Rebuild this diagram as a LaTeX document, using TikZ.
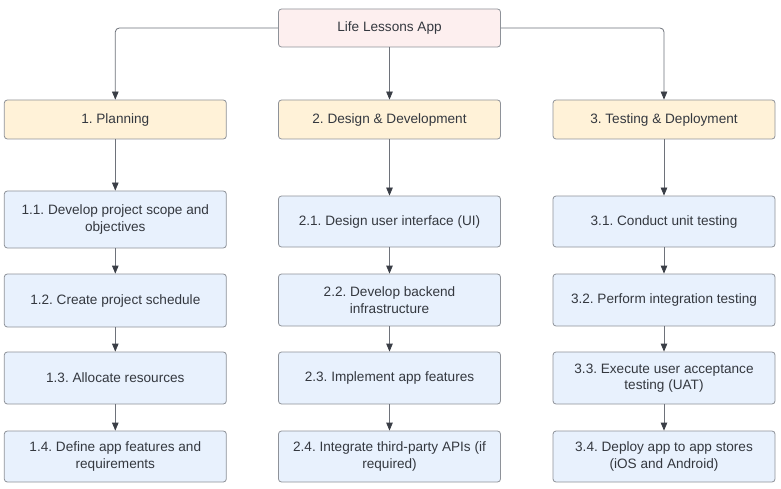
\documentclass[tikz,border=0pt]{standalone}
\usepackage{fontspec}
\setmainfont{Liberation Sans}
\usetikzlibrary{arrows.meta}
\definecolor{bordergray}{HTML}{8E9299}
\definecolor{txtgray}{HTML}{34383F}
\definecolor{linegray}{HTML}{6E727A}
\definecolor{tipgray}{HTML}{3A3E46}
\definecolor{rootfill}{HTML}{FDEFEF}
\definecolor{phasefill}{HTML}{FFF2D8}
\definecolor{taskfill}{HTML}{E8F1FD}
\tikzset{
  box/.style={draw=bordergray, line width=0.8pt, rounded corners=3pt, text=txtgray,
    align=center, font=\fontsize{13.6}{16.5}\selectfont\frenchspacing, inner sep=0pt, minimum width=222pt},
  rootbox/.style={box, fill=rootfill, minimum height=38pt},
  phasebox/.style={box, fill=phasefill, minimum height=39pt},
  taskbox/.style={box, fill=taskfill},
  conn/.style={draw=linegray, line width=0.8pt, rounded corners=4pt,
    -{Triangle[length=8pt,width=6.5pt,fill=tipgray,color=tipgray]}}
}
\begin{document}
\begin{tikzpicture}[x=1pt,y=-1pt]
\useasboundingbox[fill=white] (0,0) rectangle (781,489);
\node[rootbox] (root) at (389.5,28) {Life Lessons App};
\node[phasebox] (p1) at (115.3,119.5) {1. Planning};
\node[phasebox] (p2) at (389.5,119.5) {2. Design \& Development};
\node[phasebox] (p3) at (664,119.5) {3. Testing \& Deployment};

\node[taskbox, minimum height=57pt] (t11) at (115.3,219.5) {1.1. Develop project scope and\\objectives};
\node[taskbox, minimum height=53pt] (t12) at (115.3,300.5) {1.2. Create project schedule};
\node[taskbox, minimum height=52pt] (t13) at (115.3,378) {1.3. Allocate resources};
\node[taskbox, minimum height=51pt] (t14) at (115.3,456.5) {1.4. Define app features and\\requirements};

\node[taskbox, minimum height=51pt] (t21) at (389.5,221.5) {2.1. Design user interface (UI)};
\node[taskbox, minimum height=52pt] (t22) at (389.5,300) {2.2. Develop backend\\infrastructure};
\node[taskbox, minimum height=52pt] (t23) at (389.5,378) {2.3. Implement app features};
\node[taskbox, minimum height=51pt] (t24) at (389.5,456.5) {2.4. Integrate third-party APIs (if\\required)};

\node[taskbox, minimum height=51pt] (t31) at (664,221.5) {3.1. Conduct unit testing};
\node[taskbox, minimum height=52pt] (t32) at (664,300) {3.2. Perform integration testing};
\node[taskbox, minimum height=52pt] (t33) at (664,378) {3.3. Execute user acceptance\\testing (UAT)};
\node[taskbox, minimum height=51pt] (t34) at (664,456.5) {3.4. Deploy app to app stores\\(iOS and Android)};

\draw[conn] (root.west) -| (p1.north);
\draw[conn] (root.south) -- (p2.north);
\draw[conn] (root.east) -| (p3.north);

\draw[conn] (p1.south) -- (t11.north);
\draw[conn] (t11.south) -- (t12.north);
\draw[conn] (t12.south) -- (t13.north);
\draw[conn] (t13.south) -- (t14.north);

\draw[conn] (p2.south) -- (t21.north);
\draw[conn] (t21.south) -- (t22.north);
\draw[conn] (t22.south) -- (t23.north);
\draw[conn] (t23.south) -- (t24.north);

\draw[conn] (p3.south) -- (t31.north);
\draw[conn] (t31.south) -- (t32.north);
\draw[conn] (t32.south) -- (t33.north);
\draw[conn] (t33.south) -- (t34.north);
\end{tikzpicture}
\end{document}
